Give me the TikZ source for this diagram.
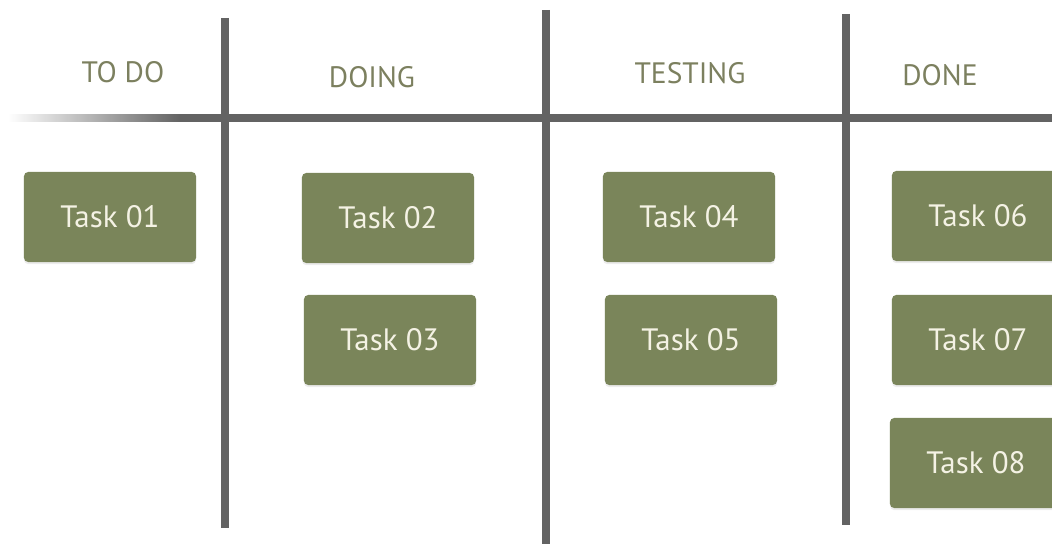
\documentclass[tikz,border=0pt]{standalone}
\usepackage{fontspec}
\setmainfont{PT Sans}
\definecolor{boardline}{HTML}{636363}
\definecolor{headtext}{HTML}{7C805F}
\definecolor{taskfill}{HTML}{7A855A}
\definecolor{tasktext}{HTML}{F4F2E4}
\tikzset{
  colhead/.style={text=headtext, font=\fontsize{21}{25}\selectfont},
  taskbox/.style={fill=taskfill, rounded corners=3pt, minimum width=4.3cm, minimum height=2.25cm,
    text=tasktext, font=\fontsize{22}{26}\selectfont, drop shadow={opacity=.15, shadow xshift=0pt, shadow yshift=-1.5pt}},
  boardrule/.style={draw=boardline, line width=5pt}
}
\usetikzlibrary{shadows}
\begin{document}
\begin{tikzpicture}[x=0.025cm, y=-0.025cm]
			\useasboundingbox (0,0) rectangle (1052,544);
			\clip (0,0) rectangle (1052,544);
			
			% columns
			\draw [boardrule] (225,18) -- (225,528);
			\draw [boardrule] (546,10) -- (546,544);
			\draw [boardrule] (846,14) -- (846,525);
			
			% header rule, fading on the left
			\shade [left color=white, right color=boardline] (8,114.5) rectangle (180,121.5);
			\draw [boardrule] (180,118) -- (1052,118);
			
			\node [colhead] (todo) at (123,72) {TO DO};
			\node [colhead] (doing) at (372,77) {DOING};
			\node [colhead] (testing) at (690,73) {TESTING};
			\node [colhead] (done) at (940,75) {DONE};
			
			\node [taskbox] (t01) at (110,217) {Task 01};
			\node [taskbox] (t02) at (388,218) {Task 02};
			\node [taskbox] (t03) at (390,340) {Task 03};
			\node [taskbox] (t04) at (689,217) {Task 04};
			\node [taskbox] (t05) at (691,340) {Task 05};
			\node [taskbox] (t06) at (978,216) {Task 06};
			\node [taskbox] (t07) at (978,340) {Task 07};
			\node [taskbox] (t08) at (976,463) {Task 08};
\end{tikzpicture}
\end{document}
